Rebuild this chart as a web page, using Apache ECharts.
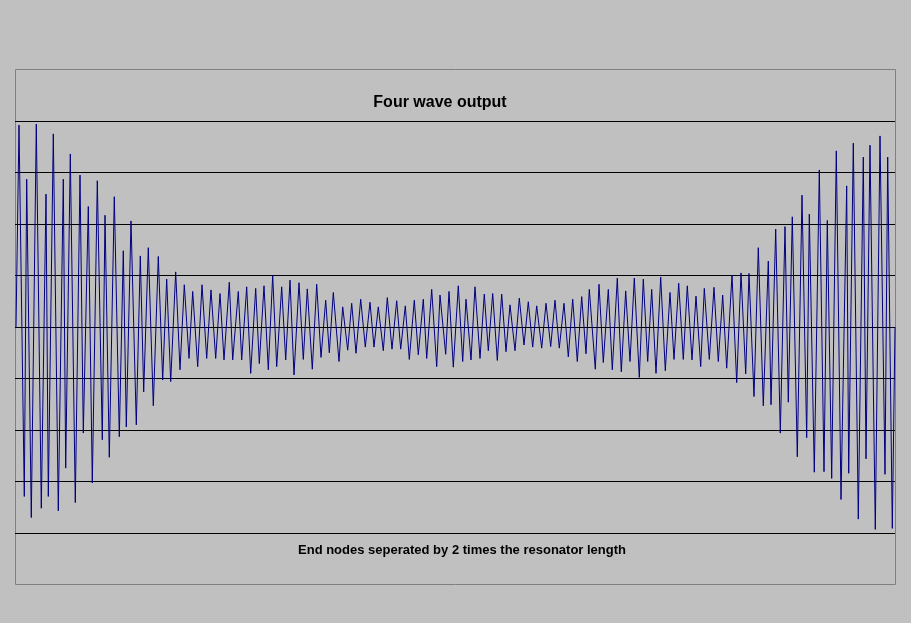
<!DOCTYPE html>
<html>
<head>
<meta charset="utf-8">
<script src="https://cdn.jsdelivr.net/npm/echarts@6/dist/echarts.min.js"></script>
<style>
html,body{margin:0;padding:0;background:#c0c0c0;}
#chart{width:911px;height:623px;}
</style>
</head>
<body>
<div id="chart"></div>
<script>
// Chart texts
const titleText = 'Four wave output';
const xAxisTitle = 'End nodes seperated by 2 times the resonator length';

// Sample position along the resonator (arbitrary units, 0..880)
const samplePos = [
  1, 4, 9.3, 11.7, 16.3, 21.3, 26.3, 31, 33.3, 38.3, 43.3, 48.3, 50.7, 55.3, 60.3, 65, 68.3, 73.3, 77.3, 82.3,
  87.3, 90, 94.3, 99.3, 104.3, 108.3, 111.3, 116, 121.3, 125.3, 128.7, 133.3, 138.3, 143.3, 147.7, 151.7, 155.7, 160.7, 165, 169.3,
  174, 177.7, 182.7, 187, 191.7, 196, 200.7, 205, 209, 214.3, 217.7, 223.3, 226.7, 231.7, 235.7, 240.7, 244.3, 249, 253.3, 257.7,
  261.7, 266.7, 270.7, 275, 279, 284, 288.3, 292.3, 297.3, 301.7, 306, 310.7, 314.3, 318.3, 324, 327.7, 332.7, 336.7, 341, 345.7,
  350.3, 355, 359, 363.3, 368.3, 372.3, 377, 381.7, 385.7, 390.3, 394.3, 399.3, 403.3, 408.3, 411.7, 416.7, 421.7, 425, 430.7, 434,
  438.3, 443.3, 447.7, 451, 456, 460, 465, 469.3, 473.3, 477.7, 482.3, 486.7, 491, 495, 500, 504.3, 509, 513.3, 517.7, 521.7,
  526.7, 531, 535.7, 540, 544.3, 549, 553.3, 557.7, 562.3, 566.7, 571, 574.3, 580.3, 584, 588.3, 593.3, 597.3, 602.3, 606.3, 610.7,
  615, 619.3, 624.3, 628.3, 632.7, 636.7, 641, 645.7, 650.3, 655, 659, 663.7, 668.3, 672.3, 677, 681, 685.7, 689.3, 694.3, 699,
  703.3, 707.7, 711.7, 717, 721.7, 726, 730.7, 734, 739, 743.3, 748.3, 753.3, 756, 760.7, 765.3, 770, 773.3, 777.3, 782.3, 787,
  791.7, 794.3, 799.3, 804.3, 809, 812.3, 816.7, 821.3, 826, 831.7, 833.7, 838.3, 843.3, 848.3, 851, 855, 860.3, 865, 870, 872.7,
  877.3, 880
];

// Output amplitude at each sample position
const output = [
  0, 3.92, -3.29, 2.87, -3.70, 3.94, -3.52, 2.58, -3.29, 3.75, -3.57, 2.87, -2.74, 3.36, -3.41, 2.95, -2.06, 2.34, -3.03, 2.84,
  -2.19, 2.17, -2.53, 2.53, -2.13, 1.48, -1.94, 2.06, -1.90, 1.38, -1.26, 1.54, -1.53, 1.37, -1.03, 0.93, -1.06, 1.07, -0.83, 0.82,
  -0.61, 0.69, -0.77, 0.82, -0.61, 0.72, -0.61, 0.65, -0.64, 0.87, -0.64, 0.69, -0.64, 0.78, -0.90, 0.75, -0.71, 0.80, -0.83, 1.00,
  -0.77, 0.78, -0.64, 0.91, -0.93, 0.86, -0.63, 0.74, -0.82, 0.83, -0.59, 0.52, -0.50, 0.67, -0.67, 0.39, -0.45, 0.46, -0.51, 0.54,
  -0.39, 0.48, -0.39, 0.39, -0.46, 0.57, -0.43, 0.51, -0.43, 0.41, -0.63, 0.52, -0.54, 0.54, -0.61, 0.73, -0.77, 0.62, -0.53, 0.69,
  -0.78, 0.80, -0.67, 0.54, -0.64, 0.78, -0.61, 0.64, -0.46, 0.65, -0.65, 0.64, -0.48, 0.43, -0.46, 0.56, -0.35, 0.49, -0.39, 0.41,
  -0.41, 0.46, -0.38, 0.52, -0.41, 0.46, -0.58, 0.54, -0.67, 0.59, -0.52, 0.73, -0.82, 0.83, -0.69, 0.73, -0.83, 0.95, -0.87, 0.70,
  -0.67, 0.95, -0.98, 0.93, -0.67, 0.73, -0.90, 0.97, -0.85, 0.67, -0.63, 0.85, -0.63, 0.80, -0.64, 0.60, -0.77, 0.75, -0.63, 0.77,
  -0.67, 0.62, -0.80, 1.01, -1.08, 1.05, -0.91, 1.04, -1.35, 1.54, -1.53, 1.28, -1.51, 1.90, -2.06, 1.95, -1.46, 2.14, -2.52, 2.56,
  -2.15, 2.19, -2.82, 3.05, -2.81, 2.07, -2.94, 3.42, -3.35, 2.74, -2.84, 3.57, -3.73, 3.30, -2.56, 3.53, -3.93, 3.71, -2.86, 3.30,
  -3.91, 0
];

// Value axis settings
const yMin = -4, yMax = 4, yStep = 1;
const xMin = 0, xMax = 880;

const chart = echarts.init(document.getElementById('chart'), null, {renderer: 'canvas'});
const font = 'Liberation Sans, Arial, sans-serif';

chart.setOption({
  backgroundColor: '#c0c0c0',
  animation: false,
  title: {
    text: titleText,
    left: 435,
    top: 90,
    textAlign: 'center',
    textStyle: {fontFamily: font, fontSize: 16, fontWeight: 'bold', color: '#000'}
  },
  grid: {left: 15, right: 16, top: 121, bottom: 90, containLabel: false},
  xAxis: {
    type: 'value', min: xMin, max: xMax, show: false
  },
  yAxis: {
    type: 'value', min: yMin, max: yMax, interval: yStep,
    axisLine: {show: false}, axisTick: {show: false}, axisLabel: {show: false},
    splitLine: {show: true, lineStyle: {color: '#000', width: 1}}
  },
  graphic: [
    {
      type: 'rect', z: -1,
      shape: {x: 15.5, y: 69.5, width: 880, height: 515},
      style: {fill: null, stroke: '#808080', lineWidth: 1}
    },
    {
      type: 'text', x: 462, y: 550,
      style: {
        text: xAxisTitle, fill: '#000', align: 'center', verticalAlign: 'middle',
        font: 'bold 13px ' + font
      }
    }
  ],
  series: [{
    type: 'line',
    data: samplePos.map((x, i) => [x, output[i]]),
    showSymbol: false,
    symbol: 'none',
    smooth: false,
    sampling: null,
    lineStyle: {color: '#000080', width: 1},
    emphasis: {disabled: true}
  }]
});
</script>
</body>
</html>
